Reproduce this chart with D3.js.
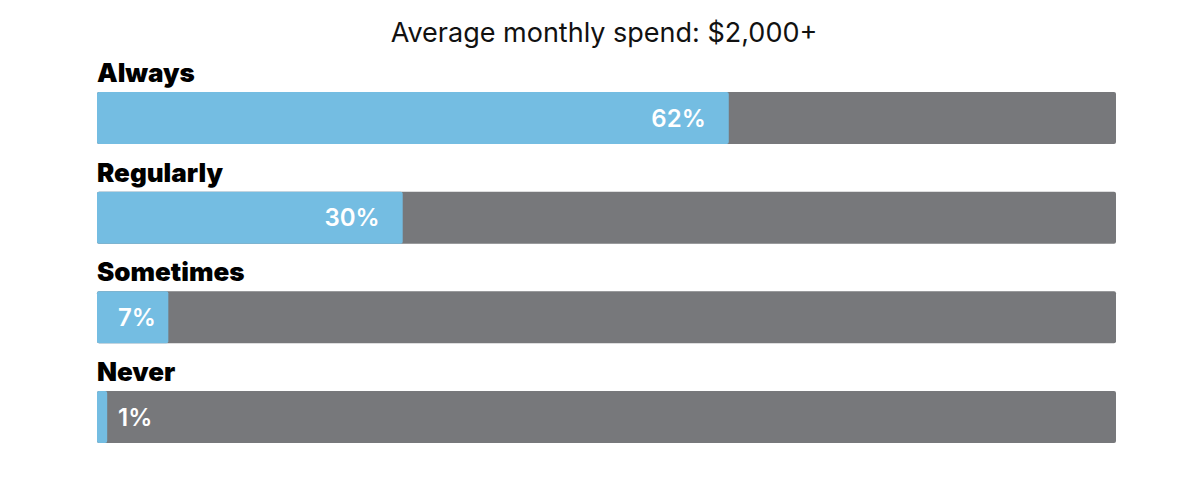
<!DOCTYPE html>
<html>
<head>
<meta charset="utf-8">
<script src="https://cdn.jsdelivr.net/npm/d3@7"></script>
<style>
  html, body { margin: 0; padding: 0; background: #fff; }
  svg { display: block; }
</style>
</head>
<body>
<svg id="chart"></svg>
<script>
// chart data
const title = 'Average monthly spend: $2,000+'
const categories = ['Always', 'Regularly', 'Sometimes', 'Never']
const values = [62, 30, 7, 1]
const valueLabels = ['62%', '30%', '7%', '1%']

const width = 1200
const height = 498

const svg = d3.select('#chart')
    .attr('width', width)
    .attr('height', height)

// scales
const xScale = d3.scaleLinear()
    .domain([0, 100])
    .range([97, 1116])

const yScale = d3.scaleBand()
    .domain(categories)
    .range([92, 443])
    .paddingInner(0.478)
    .paddingOuter(0)

// title
svg.append('text')
    .attr('x', 604)
    .attr('y', 42)
    .attr('text-anchor', 'middle')
    .style('font-family', 'Inter, sans-serif')
    .style('font-size', '27px')
    .style('fill', '#111')
    .text(title)

const rows = svg.selectAll('.row')
    .data(categories)
    .join('g')
        .attr('class', 'row')

// category labels above each bar
rows.append('text')
    .attr('x', 97)
    .attr('y', d => yScale(d) - 10)
    .style('font-family', 'Inter, sans-serif')
    .style('font-size', '26px')
    .style('font-weight', 900)
    .style('fill', '#000')
    .text(d => d)

// grey track
rows.append('rect')
    .attr('x', xScale(0))
    .attr('y', d => yScale(d))
    .attr('width', xScale(100) - xScale(0))
    .attr('height', yScale.bandwidth())
    .attr('rx', 2)
    .attr('fill', '#77787b')

// blue value bar
rows.append('rect')
    .attr('x', xScale(0))
    .attr('y', d => yScale(d))
    .attr('width', (d, i) => xScale(values[i]) - xScale(0))
    .attr('height', yScale.bandwidth())
    .attr('rx', 2)
    .attr('fill', '#74bde2')

// value labels, inside the bar end when it fits
rows.append('text')
    .attr('y', d => yScale(d) + yScale.bandwidth() / 2)
    .attr('dy', '0.36em')
    .attr('text-anchor', 'end')
    .style('font-family', 'Inter, sans-serif')
    .style('font-size', '24px')
    .style('font-weight', 600)
    .style('fill', '#fff')
    .text((d, i) => valueLabels[i])
    .attr('x', function (d, i) {
        const w = this.getComputedTextLength()
        return Math.max(xScale(values[i]) - 23, xScale(0) + 21 + w)
    })
</script>
</body>
</html>
